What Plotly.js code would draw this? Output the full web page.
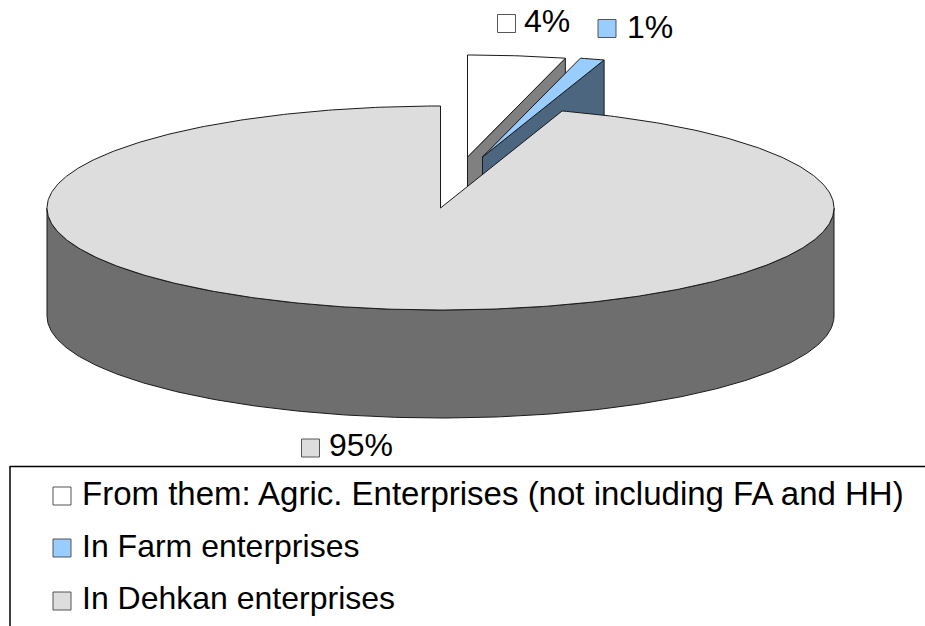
<!DOCTYPE html>
<html>
<head>
<meta charset="utf-8">
<script src="https://cdn.plot.ly/plotly-3.0.1.min.js"></script>
<style>html,body{margin:0;padding:0;background:#fff}</style>
</head>
<body>
<div id="chart" style="width:925px;height:626px"></div>
<script>
// ---- data ----
const categories = ['From them: Agric. Enterprises (not including FA and HH)', 'In Farm enterprises', 'In Dehkan enterprises'];
const shares = [4, 1, 95];
const shareLabels = ['4%', '1%', '95%'];

// ---- styles and geometry ----
const topColors = ['#FFFFFF', '#99CCFF', '#DDDDDD'];
const sideColors = ['#808080', '#4D6680', '#6E6E6E'];
const FONT = '"Liberation Sans", Arial, sans-serif';
const cx = 440.5, cy = 208, rx = 393.5, ry = 102, depth = 108;
const explode = [[27, -51], [42, -51], [0, 0]];
const notch = 16;

const total = shares.reduce((a, b) => a + b, 0);
let acc = 0;
const slices = shares.map((v, i) => {
  const a0 = acc / total * 2 * Math.PI; acc += v;
  const a1 = acc / total * 2 * Math.PI;
  return {a0, a1, ox: cx + explode[i][0], oy: cy + explode[i][1]};
});
const pt = (s, a) => [s.ox + rx * Math.sin(a), s.oy - ry * Math.cos(a)];
const arc = (s, a0, a1) => {
  const n = Math.max(4, Math.ceil(Math.abs(a1 - a0) * 90)), out = [];
  for (let k = 0; k <= n; k++) out.push(pt(s, a0 + (a1 - a0) * k / n));
  return out;
};
const poly = (pts, fill, lw) => ({
  type: 'scatter', mode: 'lines', x: pts.map(p => p[0]), y: pts.map(p => p[1]),
  fill: 'toself', fillcolor: fill, line: {color: '#1a1a1a', width: lw === undefined ? 1 : lw},
  hoverinfo: 'skip', showlegend: false
});

const traces = [];
// exploded small slices (drawn behind the big one)
const s0 = slices[0], s1 = slices[1], s2 = slices[2];
const r0 = pt(s0, s0.a1);
traces.push(poly([[s0.ox, s0.oy], r0, [r0[0], r0[1] + notch], [s1.ox, s1.oy], [s1.ox, s1.oy + depth], [s0.ox, s0.oy + depth], [s0.ox, s0.oy]], sideColors[0]));
traces.push(poly([[s0.ox, s0.oy], ...arc(s0, s0.a0, s0.a1), [s0.ox, s0.oy]], topColors[0]));
const r1 = pt(s1, s1.a1);
traces.push(poly([[s1.ox, s1.oy], r1, [r1[0], r1[1] + depth], [s1.ox, s1.oy + depth], [s1.ox, s1.oy]], sideColors[1]));
traces.push(poly([[s1.ox, s1.oy], ...arc(s1, s1.a0, s1.a1), [s1.ox, s1.oy]], topColors[1]));
// big slice: rim, then top face
const lower = arc(s2, Math.PI / 2, 3 * Math.PI / 2);
traces.push(poly([...lower, ...lower.slice().reverse().map(p => [p[0], p[1] + depth]), lower[0]], sideColors[2]));
traces.push(poly([[s2.ox, s2.oy], ...arc(s2, s2.a0, s2.a1), [s2.ox, s2.oy]], topColors[2]));

// swatches: data labels then legend
const labelBox = [[506.5, 23.5], [607, 28.5], [310.5, 448]];
const labelText = [[525, 21], [628, 27], [330, 445]];
const legendBox = [[62, 496], [62, 548], [62, 601]];
const legendText = [[83, 493], [83, 545.5], [83, 598]];
const legendSizes = [33, 32, 32];
const swatch = (pos) => ({
  type: 'scatter', mode: 'markers', x: pos.map(p => p[0]), y: pos.map(p => p[1]),
  marker: {symbol: 'square', size: 18, color: topColors, line: {color: '#555555', width: 1}},
  hoverinfo: 'skip', showlegend: false
});
traces.push(swatch(labelBox), swatch(legendBox));

const note = (text, p, size) => ({
  text, x: p[0], y: p[1], xref: 'x', yref: 'y', xanchor: 'left', yanchor: 'middle',
  showarrow: false, xshift: -1, font: {family: FONT, size, color: '#000'}, borderpad: 0, borderwidth: 0
});
const annotations = [
  ...shareLabels.map((t, i) => note(t, labelText[i], 32)),
  ...categories.map((t, i) => note(t, legendText[i], legendSizes[i]))
];

const layout = {
  width: 925, height: 626, autosize: false,
  margin: {l: 0, r: 0, t: 0, b: 0, pad: 0},
  paper_bgcolor: '#fff', plot_bgcolor: '#fff', showlegend: false,
  xaxis: {range: [0, 925], visible: false, fixedrange: true},
  yaxis: {range: [626, 0], visible: false, fixedrange: true},
  annotations,
  shapes: [
    {type: 'line', x0: 10, x1: 925, y0: 466.5, y1: 466.5, line: {color: '#000', width: 1.5}},
    {type: 'line', x0: 10, x1: 10, y0: 466, y1: 626, line: {color: '#000', width: 1.5}}
  ]
};
Plotly.newPlot('chart', traces, layout, {displayModeBar: false, staticPlot: true});
</script>
</body>
</html>
